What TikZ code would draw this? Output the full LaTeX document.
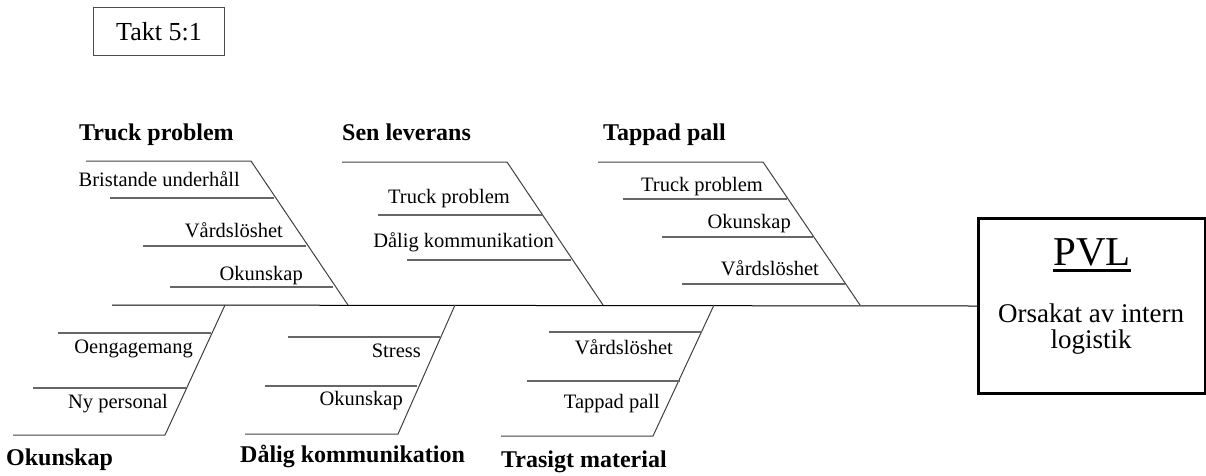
\documentclass[tikz,border=0pt]{standalone}
\usepackage{fontspec}
\setmainfont{Liberation Serif}
\tikzset{
  bone/.style={draw=black!75, line width=1pt},
  rib/.style={draw=black!60, line width=1.5pt},
  cause/.style={anchor=base east, inner sep=0pt, font=\fontsize{20.5}{24}\selectfont},
  group/.style={anchor=base west, inner sep=0pt, font=\fontsize{24}{28}\selectfont\bfseries},
}
\begin{document}
\begin{tikzpicture}[x=1pt,y=-1pt]
\useasboundingbox (0,0) rectangle (1206,475);

% takt
\node[draw=black!70, line width=1pt, anchor=north west, minimum width=131pt, minimum height=48pt,
  font=\fontsize{26}{30}\selectfont] (takt) at (93,7) {Takt 5:1};

% effect box
\node[draw, line width=3pt, anchor=north west, minimum width=227pt, minimum height=175pt, inner sep=0pt] (pvl) at (977,217) {};
\node[anchor=base, inner sep=0pt, font=\fontsize{41}{45}\selectfont] (pvltxt) at (1092,265) {PVL};
\draw[line width=3pt] ([yshift=-5pt]pvltxt.base west) -- ([yshift=-5pt]pvltxt.base east);
\node[anchor=base, inner sep=0pt, align=center, font=\fontsize{27}{26}\selectfont] (orsak) at (1091,348) {Orsakat av intern\\logistik};

% spine
\coordinate (head) at (112,305);
\draw[bone, draw=black] (head) -- (pvl.west);

% upper bones
\coordinate (tp-top) at (251,161);
\coordinate (tp-sp) at (348,305);
\draw[bone] (86,161) -- (tp-top) -- (tp-sp);
\node[group] (tp) at (79,140) {Truck problem};
\foreach \i/\xl/\yr/\xr/\xt/\yt/\txt in {1/110/198/274/240/186/Bristande underhåll,
  2/143/246/306/283/237/Vårdslöshet, 3/170/287/333/303/280/Okunskap}
{
  \draw[rib] (\xl,\yr) -- (\xr,\yr);
  \node[cause] (tp-\i) at (\xt,\yt) {\txt};
}

\coordinate (sl-top) at (507,162);
\coordinate (sl-sp) at (603,305);
\draw[bone] (342,162) -- (sl-top) -- (sl-sp);
\node[group] (sl) at (342,140) {Sen leverans};
\foreach \i/\xl/\yr/\xr/\xt/\yt/\txt in {1/378/215/542/510/203/Truck problem,
  2/407/260/571/554/247/Dålig kommunikation}
{
  \draw[rib] (\xl,\yr) -- (\xr,\yr);
  \node[cause] (sl-\i) at (\xt,\yt) {\txt};
}

\coordinate (pa-top) at (763,162);
\coordinate (pa-sp) at (860,305);
\draw[bone] (598,162) -- (pa-top) -- (pa-sp);
\node[group] (pa) at (603,140) {Tappad pall};
\foreach \i/\xl/\yr/\xr/\xt/\yt/\txt in {1/623/199/787/763/191/Truck problem,
  2/662/237/813/791/228/Okunskap, 3/682/284/845/819/275/Vårdslöshet}
{
  \draw[rib] (\xl,\yr) -- (\xr,\yr);
  \node[cause] (pa-\i) at (\xt,\yt) {\txt};
}

% lower bones
\coordinate (ok-sp) at (225,305);
\coordinate (ok-bot) at (165,435);
\draw[bone] (ok-sp) -- (ok-bot) -- (13,435);
\node[group] (ok) at (6,465) {Okunskap};
\foreach \i/\xl/\yr/\xr/\xt/\yt/\txt in {1/58/333/211/193/353/Oengagemang,
  2/33/388/186/168/408/Ny personal}
{
  \draw[rib] (\xl,\yr) -- (\xr,\yr);
  \node[cause] (ok-\i) at (\xt,\yt) {\txt};
}

\coordinate (dk-sp) at (455,305);
\coordinate (dk-bot) at (398,434);
\draw[bone] (dk-sp) -- (dk-bot) -- (245,434);
\node[group] (dk) at (240,462) {Dålig kommunikation};
\foreach \i/\xl/\yr/\xr/\xt/\yt/\txt in {1/288/337/440/421/357/Stress,
  2/265/386/417/403/405/Okunskap}
{
  \draw[rib] (\xl,\yr) -- (\xr,\yr);
  \node[cause] (dk-\i) at (\xt,\yt) {\txt};
}

\coordinate (tm-sp) at (714,305);
\coordinate (tm-bot) at (653,436);
\draw[bone] (tm-sp) -- (tm-bot) -- (501,436);
\node[group] (tm) at (501,467) {Trasigt material};
\foreach \i/\xl/\yr/\xr/\xt/\yt/\txt in {1/549/332/702/673/354/Vårdslöshet,
  2/527/381/680/660/408/Tappad pall}
{
  \draw[rib] (\xl,\yr) -- (\xr,\yr);
  \node[cause] (tm-\i) at (\xt,\yt) {\txt};
}

\end{tikzpicture}
\end{document}
